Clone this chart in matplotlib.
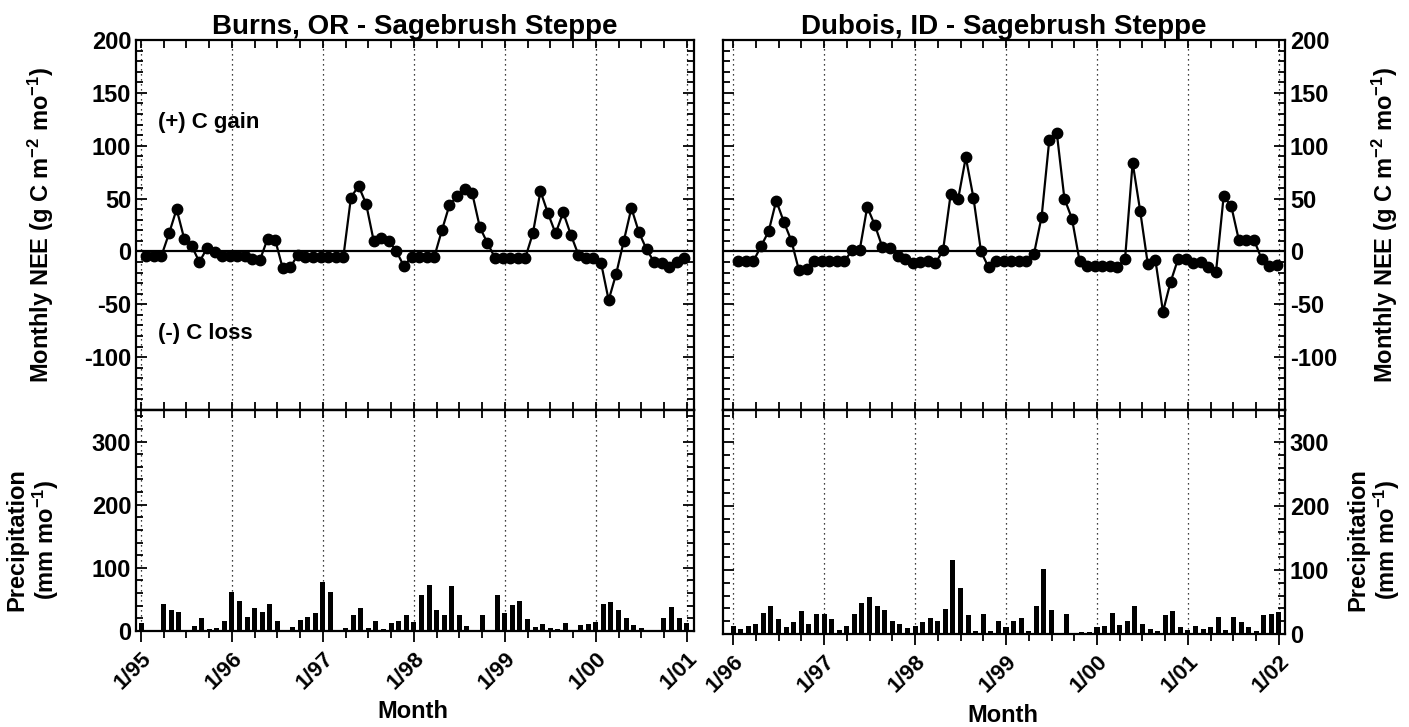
import numpy as np
import matplotlib
matplotlib.use('Agg')
import matplotlib.pyplot as plt
from matplotlib.ticker import MultipleLocator

plt.rcParams['font.family'] = ['Liberation Sans', 'DejaVu Sans']
plt.rcParams['font.weight'] = 'bold'
plt.rcParams['mathtext.fontset'] = 'custom'
plt.rcParams['mathtext.rm'] = 'Liberation Sans:bold'
plt.rcParams['mathtext.it'] = 'Liberation Sans:bold'
plt.rcParams['mathtext.bf'] = 'Liberation Sans:bold'
plt.rcParams['axes.linewidth'] = 1.6
plt.rcParams['axes.unicode_minus'] = False

# Burns, OR: monthly NEE Jan 1995 - Dec 2000, precip Jan 1995 - Jan 2001
burns_nee = [-4, -4, -4, 17, 40, 12, 5, -10, 3, -1, -4, -4,
             -4, -4, -7, -8, 12, 11, -16, -15, -3, -5, -5, -5,
             -5, -5, -5, 51, 62, 45, 10, 13, 10, 0, -14, -5,
             -5, -5, -5, 20, 44, 52, 59, 55, 23, 8, -6, -6,
             -6, -6, -6, 17, 57, 36, 17, 37, 16, -3, -6, -6,
             -11, -46, -21, 10, 41, 18, 2, -10, -11, -15, -10, -6]
burns_ppt = [13, 0, 0, 42, 34, 30, 1, 8, 20, 3, 4, 16,
             62, 47, 22, 37, 30, 42, 16, 0, 7, 17, 22, 28,
             78, 62, 2, 4, 25, 36, 5, 16, 3, 13, 16, 25,
             15, 57, 73, 34, 26, 72, 26, 8, 0, 26, 0, 57,
             28, 41, 48, 19, 7, 11, 5, 3, 13, 0, 9, 11,
             14, 42, 46, 34, 21, 10, 4, 0, 0, 21, 38, 20, 12]

# Dubois, ID: monthly NEE Jan 1996 - Dec 2001, precip Jan 1996 - Jan 2002
dubois_nee = [-9, -9, -9, 5, 19, 48, 28, 10, -18, -17, -9, -9,
              -9, -9, -9, 1, 1, 42, 25, 4, 3, -4, -7, -11,
              -10, -9, -11, 1, 54, 50, 89, 51, 0, -15, -9, -9,
              -9, -9, -9, -2, 33, 105, 112, 50, 31, -9, -14, -14,
              -14, -14, -15, -7, 84, 38, -12, -8, -57, -29, -7, -7,
              -11, -10, -15, -19, 52, 43, 11, 11, 11, -7, -14, -13]
dubois_ppt = [13, 8, 12, 15, 33, 43, 24, 11, 19, 36, 16, 31,
              31, 24, 6, 13, 32, 48, 58, 43, 37, 21, 15, 10,
              12, 19, 25, 20, 39, 115, 72, 29, 4, 31, 4, 20,
              11, 20, 25, 5, 44, 102, 38, 0, 31, 0, 3, 3,
              11, 13, 33, 14, 21, 44, 15, 8, 4, 30, 36, 11,
              6, 13, 8, 11, 27, 7, 27, 18, 11, 5, 29, 31, 35]

W, H = 1409, 727
fig = plt.figure(figsize=(W / 100, H / 100), dpi=100)


def box(x0, x1, y0, y1):
    return [x0 / W, 1 - y1 / H, (x1 - x0) / W, (y1 - y0) / H]


def draw_site(ax_n, ax_p, start, nee, ppt, xlim, title, side):
    years = np.arange(start, start + 7)
    t_nee = start + (np.arange(len(nee)) + 0.7) / 12
    t_ppt = start + np.arange(len(ppt)) / 12

    for ax in (ax_n, ax_p):
        for yr in years:
            ax.axvline(yr, color='k', ls=(0, (1, 3)), lw=0.9)
        ax.set_xlim(*xlim)
        ax.xaxis.set_minor_locator(MultipleLocator(0.25))
        ax.set_xticks(years)

    ax_n.axhline(0, color='k', lw=1.6)
    ax_n.plot(t_nee, nee, '-o', color='k', lw=1.6, ms=7.5)
    ax_n.set_ylim(-150, 200)
    ax_n.set_yticks(np.arange(-100, 201, 50))
    ax_n.yaxis.set_minor_locator(MultipleLocator(10))
    ax_n.tick_params(axis='x', which='both', top=True, bottom=True,
                     direction='in', labelbottom=False, length=6, width=1.3)
    ax_n.tick_params(axis='y', which='both', left=True, right=True,
                     direction='in', labelleft=(side == 'left'),
                     labelright=(side == 'right'), labelsize=17, width=1.3)
    ax_n.tick_params(axis='y', which='major', length=8)
    ax_n.tick_params(axis='y', which='minor', length=5)
    ax_n.set_title(title, fontsize=20, fontweight='bold', pad=4)

    ax_p.bar(t_ppt, ppt, width=0.055, color='k')
    ax_p.set_ylim(0, 350)
    ax_p.set_yticks([0, 100, 200, 300])
    ax_p.yaxis.set_minor_locator(MultipleLocator(20))
    ax_p.tick_params(axis='x', which='both', top=False, bottom=True,
                     direction='out', width=1.3)
    ax_p.tick_params(axis='x', which='major', length=8, labelsize=16, pad=4)
    ax_p.tick_params(axis='x', which='minor', length=5)
    ax_p.tick_params(axis='y', which='both', left=True, right=True,
                     direction='in', labelleft=(side == 'left'),
                     labelright=(side == 'right'), labelsize=17, width=1.3)
    ax_p.tick_params(axis='y', which='major', length=8)
    ax_p.tick_params(axis='y', which='minor', length=5)
    ax_p.set_xticklabels(['1/%02d' % (y % 100) for y in years],
                         rotation=45, ha='right', rotation_mode='anchor')
    # crossing ticks on the shared edge
    sec = ax_p.secondary_xaxis('top')
    sec.set_xticks(years)
    sec.xaxis.set_minor_locator(MultipleLocator(0.25))
    sec.tick_params(axis='x', which='both', direction='in', length=6,
                    width=1.3, labeltop=False)


axLn = fig.add_axes(box(136, 694, 40, 410))
axLp = fig.add_axes(box(136, 694, 410, 631))
axRn = fig.add_axes(box(723, 1285, 40, 410))
axRp = fig.add_axes(box(723, 1285, 410, 634))

draw_site(axLn, axLp, 1995, burns_nee, burns_ppt, (1994.945, 2001.08),
          'Burns, OR - Sagebrush Steppe', 'left')
draw_site(axRn, axRp, 1996, dubois_nee, dubois_ppt, (1995.89, 2002.066),
          'Dubois, ID - Sagebrush Steppe', 'right')

axLn.text(0.04, 0.778, '(+) C gain', transform=axLn.transAxes,
          fontsize=16, fontweight='bold', va='center')
axLn.text(0.04, 0.208, '(-) C loss', transform=axLn.transAxes,
          fontsize=16, fontweight='bold', va='center')

nee_lab = 'Monthly NEE (g C m$^{-2}$ mo$^{-1}$)'
ppt_lab = 'Precipitation\n(mm mo$^{-1}$)'
fig.text(41 / W, 1 - 225 / H, nee_lab, rotation=90, ha='center', va='center',
         fontsize=17, fontweight='bold')
fig.text(1385 / W, 1 - 225 / H, nee_lab, rotation=90, ha='center', va='center',
         fontsize=17, fontweight='bold')
fig.text(33 / W, 1 - 540 / H, ppt_lab, rotation=90, ha='center', va='center',
         fontsize=17, fontweight='bold', linespacing=1.1)
fig.text(1374 / W, 1 - 540 / H, ppt_lab, rotation=90, ha='center', va='center',
         fontsize=17, fontweight='bold', linespacing=1.1)
fig.text(413 / W, 1 - 712 / H, 'Month', ha='center', va='center',
         fontsize=17, fontweight='bold')
fig.text(1003 / W, 1 - 715 / H, 'Month', ha='center', va='center',
         fontsize=17, fontweight='bold')

fig.savefig('out.png', dpi=100)
